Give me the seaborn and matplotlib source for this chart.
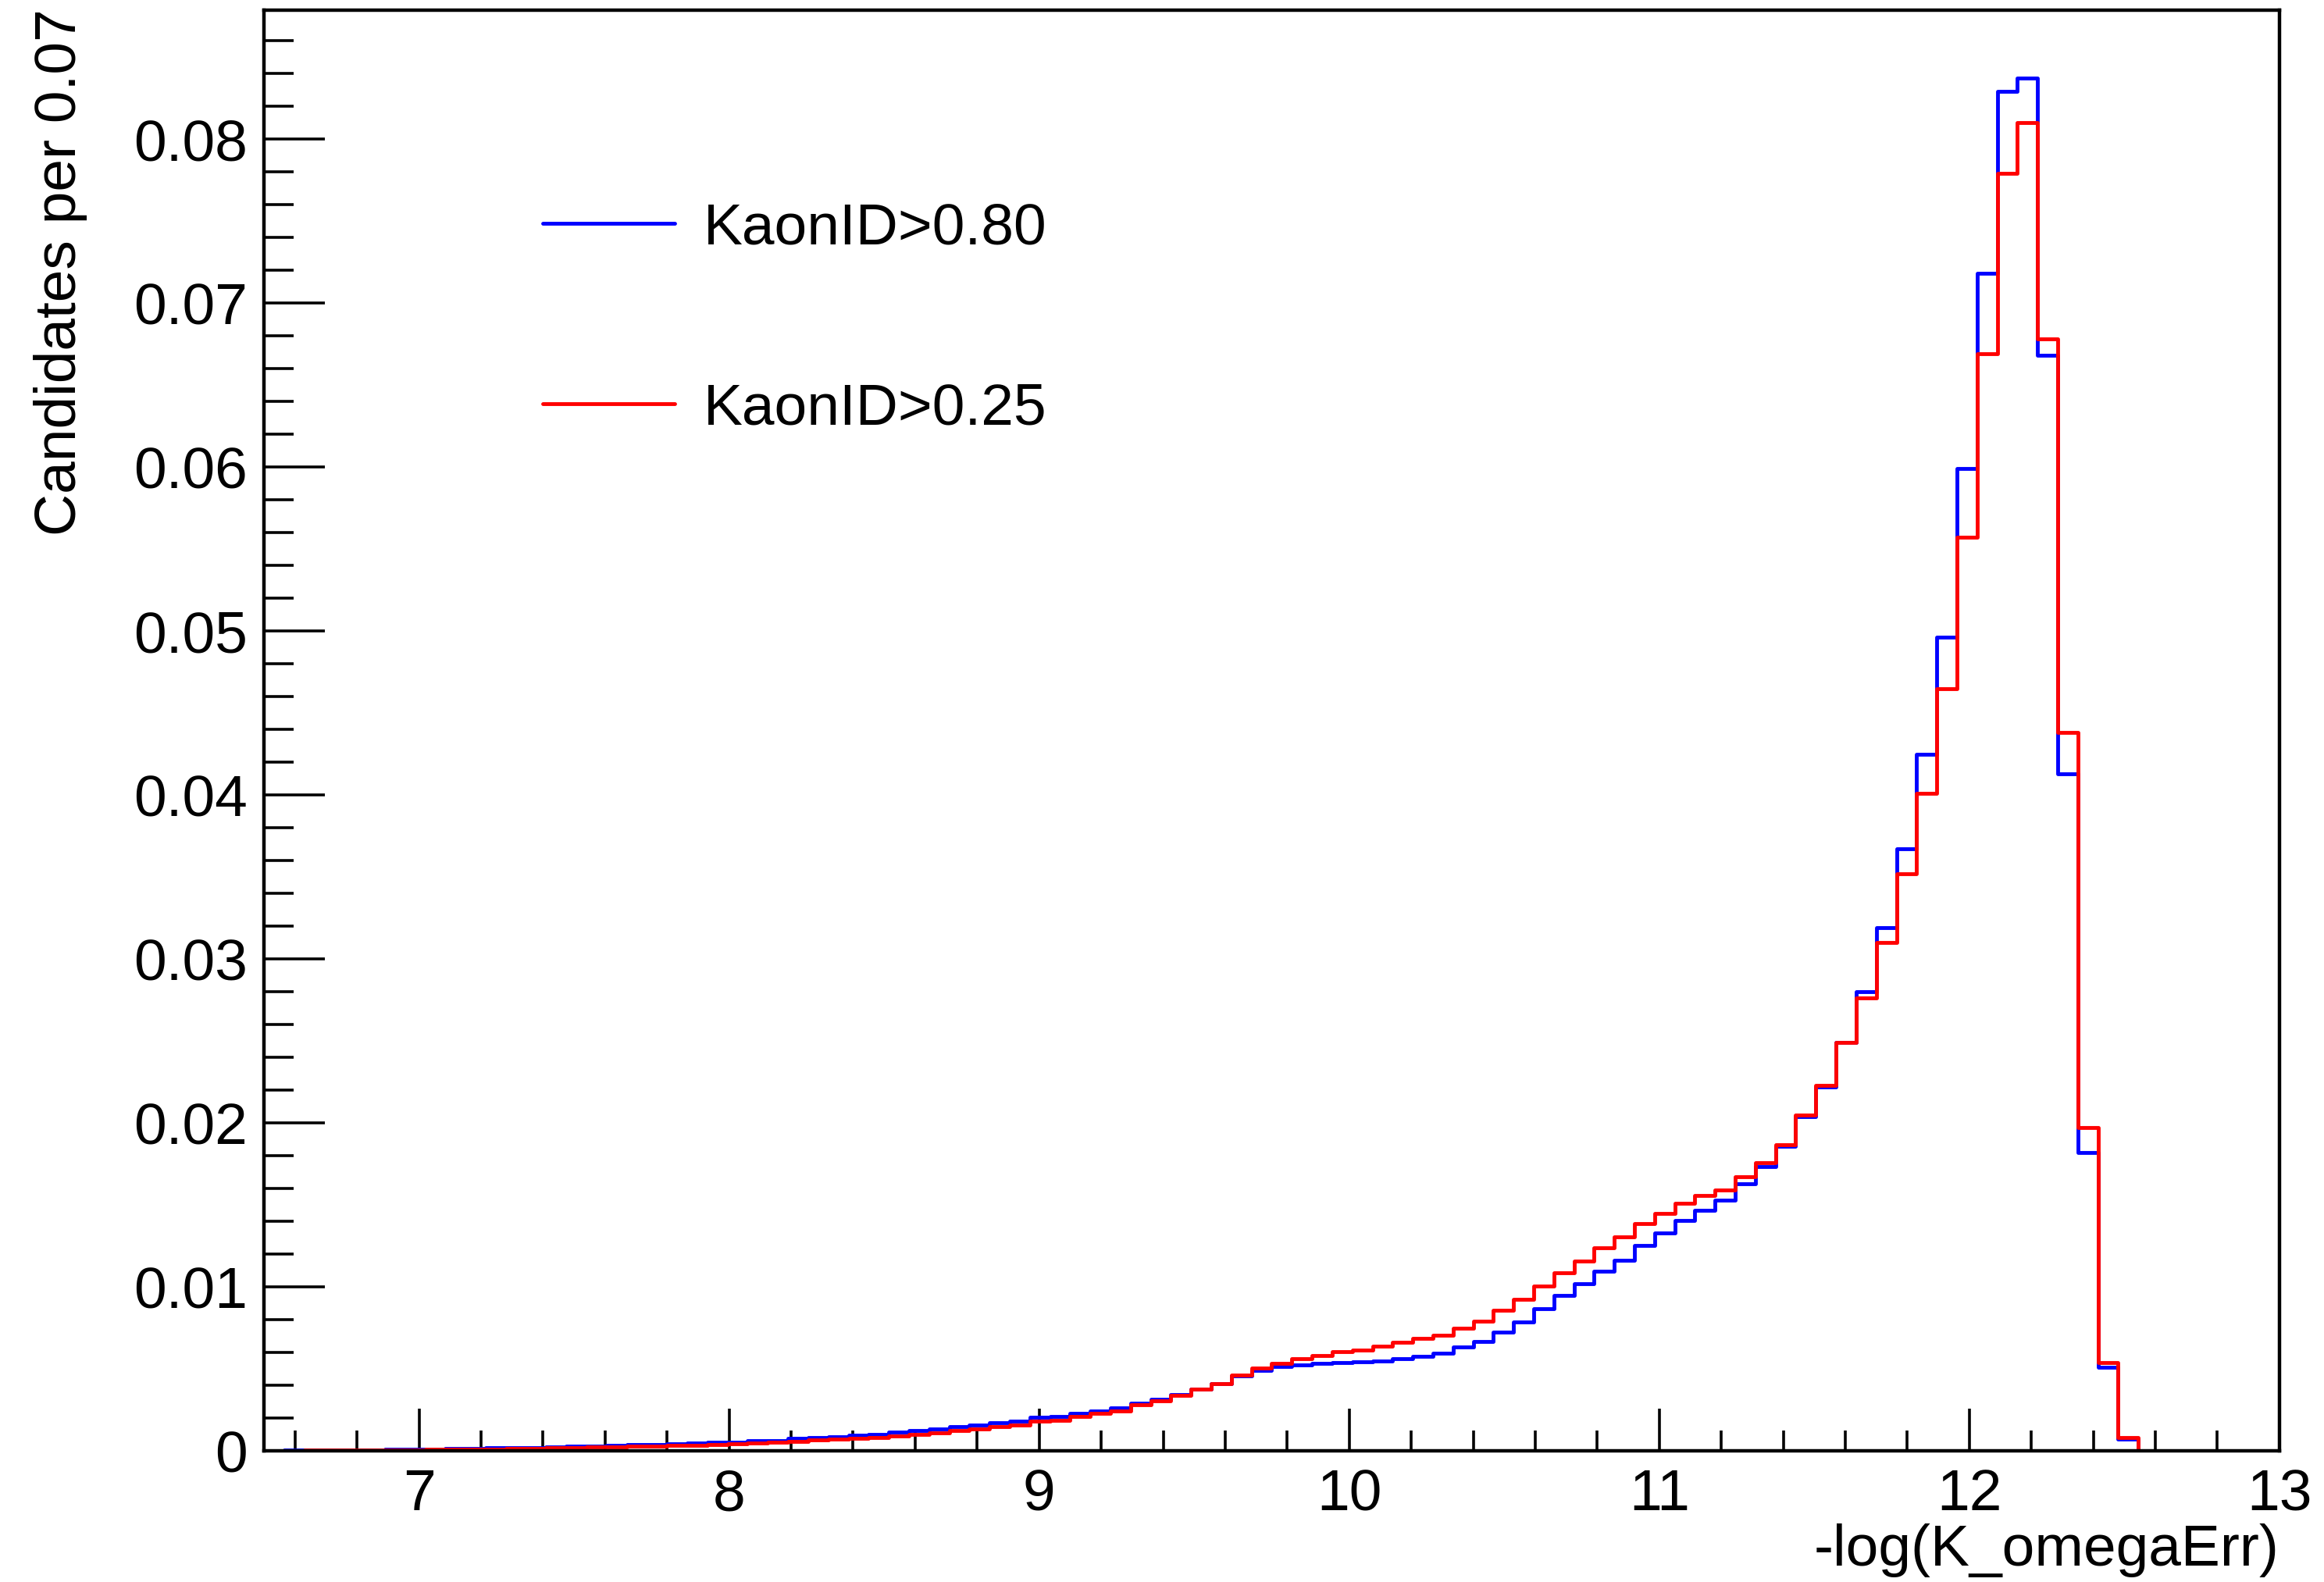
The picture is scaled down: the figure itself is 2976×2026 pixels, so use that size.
import numpy as np
import pandas as pd
import matplotlib
matplotlib.use("Agg")
import matplotlib.pyplot as plt
from matplotlib.lines import Line2D
from matplotlib.ticker import MultipleLocator
import seaborn as sns

# Binning: 100 bins from 6.5 to 13
bin_lo, bin_hi, n_bins = 6.5, 13.0, 100

# Normalised bin contents, KaonID>0.80 (blue)
kaon080 = [
    0.00002, 0.00003, 0.00004, 0.00005, 0.00006, 0.00007, 0.00008, 0.00010, 0.00011, 0.00013,
    0.00015, 0.00017, 0.00019, 0.00021, 0.00024, 0.00027, 0.00030, 0.00033, 0.00036, 0.00040,
    0.00043, 0.00046, 0.00051, 0.00054, 0.00060, 0.00063, 0.00076, 0.00081, 0.00086, 0.00094,
    0.00102, 0.00113, 0.00125, 0.00133, 0.00146, 0.00157, 0.00173, 0.00181, 0.00205, 0.00208,
    0.00229, 0.00245, 0.00261, 0.00292, 0.00316, 0.00345, 0.00378, 0.00411, 0.00456, 0.00492,
    0.00513, 0.00526, 0.00532, 0.00540, 0.00545, 0.00548, 0.00560, 0.00578, 0.00597, 0.00633,
    0.00665, 0.00726, 0.00785, 0.00868, 0.00950, 0.01021, 0.01097, 0.01162, 0.01252, 0.01330,
    0.01405, 0.01465, 0.01528, 0.01630, 0.01732, 0.01858, 0.0204, 0.0222, 0.0249, 0.0280,
    0.0319, 0.0367, 0.0425, 0.0496, 0.0599, 0.0718, 0.0829, 0.0837, 0.0668, 0.0413,
    0.0182, 0.0051, 0.0007, 0.00002, 0.0, 0.0, 0.0, 0.0, 0.0, 0.0,
]

# Normalised bin contents, KaonID>0.25 (red)
kaon025 = [
    0.00001, 0.00002, 0.00003, 0.00004, 0.00004, 0.00005, 0.00006, 0.00007, 0.00008, 0.00010,
    0.00011, 0.00012, 0.00014, 0.00016, 0.00018, 0.00020, 0.00022, 0.00025, 0.00027, 0.00030,
    0.00032, 0.00033, 0.00038, 0.00043, 0.00046, 0.00051, 0.00059, 0.00065, 0.00070, 0.00078,
    0.00083, 0.00090, 0.00102, 0.00110, 0.00122, 0.00133, 0.00146, 0.00155, 0.00181, 0.00187,
    0.00208, 0.00229, 0.00245, 0.00280, 0.00303, 0.00338, 0.00378, 0.00411, 0.00464, 0.00505,
    0.00532, 0.00564, 0.00583, 0.00605, 0.00616, 0.00638, 0.00660, 0.00686, 0.00707, 0.00749,
    0.00793, 0.00859, 0.00924, 0.01005, 0.01088, 0.01159, 0.01238, 0.01303, 0.01388, 0.01450,
    0.01508, 0.01559, 0.01591, 0.01670, 0.01755, 0.01866, 0.0205, 0.0223, 0.0249, 0.0276,
    0.0310, 0.0352, 0.0401, 0.0465, 0.0557, 0.0669, 0.0779, 0.0810, 0.0678, 0.0438,
    0.0197, 0.0054, 0.0008, 0.00002, 0.0, 0.0, 0.0, 0.0, 0.0, 0.0,
]

series_labels = ["KaonID>0.80", "KaonID>0.25"]
series_colors = ["#0000ff", "#ff0000"]

xtick_values = [7, 8, 9, 10, 11, 12, 13]
ytick_values = [0, 0.01, 0.02, 0.03, 0.04, 0.05, 0.06, 0.07, 0.08]
ytick_labels = ["0", "0.01", "0.02", "0.03", "0.04", "0.05", "0.06", "0.07", "0.08"]

sns.set_theme(style="white")
plt.rcParams["font.family"] = ["Liberation Sans", "DejaVu Sans"]
plt.rcParams["text.color"] = "black"
plt.rcParams["axes.labelcolor"] = "black"
plt.rcParams["xtick.color"] = "black"
plt.rcParams["ytick.color"] = "black"

edges = np.linspace(bin_lo, bin_hi, n_bins + 1)
centers = 0.5 * (edges[:-1] + edges[1:])

fig = plt.figure(figsize=(14.88, 10.13), dpi=200)
ax = fig.add_axes([0.1136, 0.0829, 0.8672, 0.9107])

lw = 1.75
for vals, col in zip([kaon080, kaon025], series_colors):
    df = pd.DataFrame({"x": centers, "w": vals})
    sns.histplot(data=df, x="x", weights="w", bins=n_bins, binrange=(bin_lo, bin_hi),
                 element="step", fill=False, color=col, linewidth=lw, ax=ax)

ax.set_xlim(bin_lo, bin_hi)
ax.set_ylim(0, 0.08786)

fs = 27
ax.set_xticks(xtick_values)
ax.set_xticklabels([str(v) for v in xtick_values])
ax.xaxis.set_minor_locator(MultipleLocator(0.2))
ax.set_yticks(ytick_values)
ax.set_yticklabels(ytick_labels)
ax.yaxis.set_minor_locator(MultipleLocator(0.002))

ax.tick_params(axis="x", which="major", direction="in", length=19.5, width=1.3,
               pad=8.0, labelsize=fs, colors="black", bottom=True, top=False)
ax.tick_params(axis="x", which="minor", direction="in", length=9.5, width=1.3,
               bottom=True, top=False)
ax.tick_params(axis="y", which="major", direction="in", length=28, width=1.3,
               pad=7.5, labelsize=fs, colors="black", left=True, right=False)
ax.tick_params(axis="y", which="minor", direction="in", length=13.7, width=1.3,
               left=True, right=False)

for sp in ax.spines.values():
    sp.set_visible(True)
    sp.set_color("black")
    sp.set_linewidth(1.6)

ax.set_xlabel("-log(K_omegaErr)", fontsize=fs, loc="right", color="black")
ax.xaxis.label.set_va("baseline")
ax.xaxis.set_label_coords(1.0, -0.0797)
ax.set_ylabel("Candidates per 0.07", fontsize=fs, loc="top", color="black")
ax.yaxis.label.set_va("baseline")
ax.yaxis.set_label_coords(-0.0934, 1.001)

handles = [Line2D([], [], color=c, linewidth=lw) for c in series_colors]
leg = ax.legend(handles, series_labels, loc="upper left", bbox_to_anchor=(0.1383, 0.8671),
                frameon=False, fontsize=fs, handlelength=2.25, handletextpad=0.5,
                labelspacing=2.16, borderpad=0, borderaxespad=0)
for t in leg.get_texts():
    t.set_color("black")

fig.savefig("out.png", dpi=200, facecolor="white")
